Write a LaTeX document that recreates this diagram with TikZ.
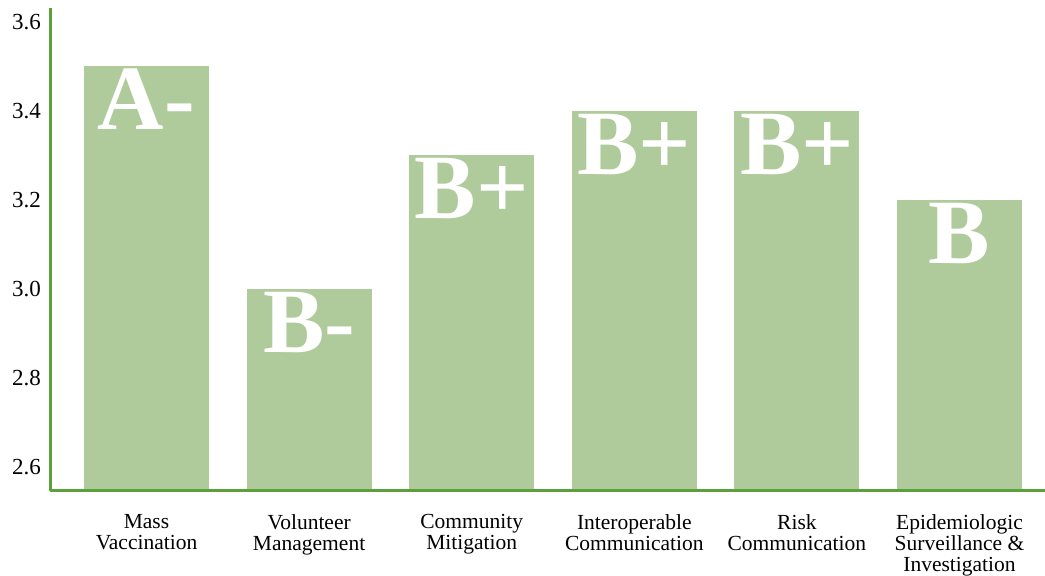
\documentclass[tikz,border=0pt]{standalone}
\usepackage{fontspec}
\setmainfont{Liberation Serif}
\definecolor{barGreen}{RGB}{176,203,155}
\definecolor{axisGreen}{RGB}{92,160,60}
\tikzset{
  bar/.style={fill=barGreen, draw=none},
  grade/.style={text=white, font=\fontsize{92}{92}\selectfont\bfseries, anchor=base, inner sep=0pt},
  catlabel/.style={font=\fontsize{21.5}{21}\selectfont, align=center, anchor=north, inner sep=0pt},
  ticklabel/.style={font=\fontsize{23}{23}\selectfont, anchor=east, inner sep=0pt}
}
\begin{document}
\begin{tikzpicture}[x=1pt, y=1pt, line join = round]
\useasboundingbox (0,0) rectangle (1045,576);

% value v sits at y = 109 + (v-2.6)*445
\pgfmathsetmacro{\unit}{445}

\foreach \v [count=\k] in {2.6,2.8,3.0,3.2,3.4,3.6}
  \node[ticklabel] (tick\k) at (41, {109+(\v-2.6)*\unit}) {\v};

\foreach \v/\g/\t [count=\i] in {3.5/A-/Mass\\Vaccination,
    3.0/B-/Volunteer\\Management,
    3.3/B+/Community\\Mitigation,
    3.4/B+/Interoperable\\Communication,
    3.4/B+/Risk\\Communication,
    3.2/B/Epidemiologic\\Surveillance \&\\Investigation}
{
  \pgfmathsetmacro{\cx}{146.5+(\i-1)*162.6}
  \pgfmathsetmacro{\top}{109+(\v-2.6)*\unit}
  \fill[bar] ({\cx-62.5},85) rectangle ({\cx+62.5},\top);
  \node[grade] (grade\i) at (\cx, \top-63) {\g};
  \node[catlabel] (cat\i) at (\cx, 62) {\t};
}

\coordinate (origin) at (50,85);
\coordinate (ytop) at (50,568);
\coordinate (xend) at (1045,85);
\draw[axisGreen, line width=3pt] (ytop) -- (origin) -- (xend);
\end{tikzpicture}
\end{document}
